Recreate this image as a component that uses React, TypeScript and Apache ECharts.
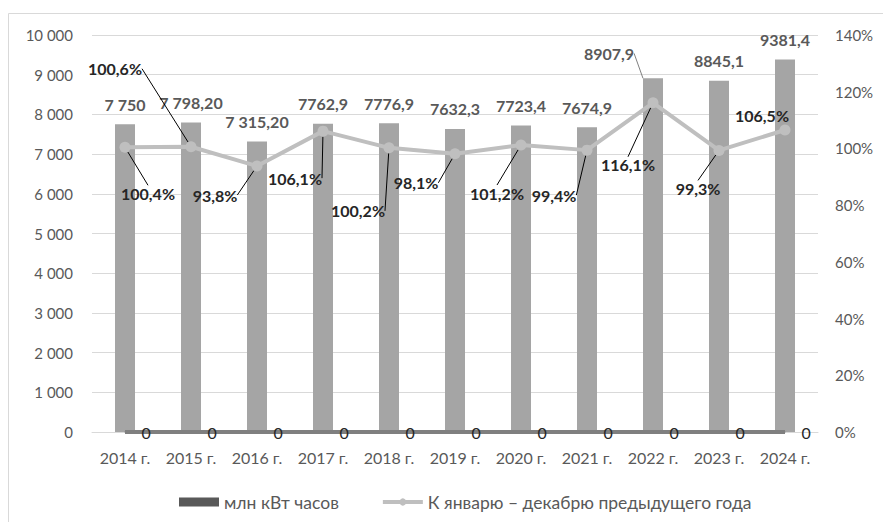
import React, { useEffect, useRef } from "react";
import * as echarts from "echarts";

const categories = ["2014 г.", "2015 г.", "2016 г.", "2017 г.", "2018 г.", "2019 г.", "2020 г.", "2021 г.", "2022 г.", "2023 г.", "2024 г."];
const energyValues = [7750, 7798.2, 7315.2, 7762.9, 7776.9, 7632.3, 7723.4, 7674.9, 8907.9, 8845.1, 9381.4];
const energyLabels = ["7 750", "7 798,20", "7 315,20", "7762,9", "7776,9", "7632,3", "7723,4", "7674,9", "8907,9", "8845,1", "9381,4"];
const zeroValues = [0, 0, 0, 0, 0, 0, 0, 0, 0, 0, 0];
const percentValues = [100.4, 100.6, 93.8, 106.1, 100.2, 98.1, 101.2, 99.4, 116.1, 99.3, 106.5];
const percentLabels = ["100,4%", "100,6%", "93,8%", "106,1%", "100,2%", "98,1%", "101,2%", "99,4%", "116,1%", "99,3%", "106,5%"];
const leftTicks = { min: 0, max: 10000, interval: 1000 };
const rightTicks = { min: 0, max: 140, interval: 20 };

const SERIES_ENERGY = "млн кВт часов";
const SERIES_PERCENT = "К январю – декабрю предыдущего года";

// label offsets (layout only)
const percentLabelOffsets: [number, number][] = [
  [23, 46], [-76, -78], [-42, 29], [-28, 47], [-31, 63], [-39, 29],
  [-24, 48], [-33, 45], [-25, 62], [-21, 38], [-23, -14],
];
const barLabelOffsets: Record<number, [number, number]> = { 8: [-44, -5] };

const FONT = "Lato, 'Noto Sans', sans-serif";

export default function App() {
  const ref = useRef<HTMLDivElement>(null);
  useEffect(() => {
    if (!ref.current) return;
    const chart = echarts.init(ref.current, undefined, { renderer: "svg" });
    const fmtThousands = (v: number) =>
      String(v).replace(/\B(?=(\d{3})+(?!\d))/g, " ");
    chart.setOption({
      animation: false,
      textStyle: { fontFamily: FONT },
      graphic: [
        {
          type: "rect",
          shape: { x: 8.5, y: 13.5, width: 900, height: 600 },
          style: { fill: "none", stroke: "#d9d9d9", lineWidth: 1 },
          silent: true,
          z: -1,
        },
      ],
      grid: { left: 92, right: 65, top: 35, bottom: 90 },
      legend: {
        left: 174,
        top: 488,
        itemWidth: 40,
        itemHeight: 9,
        itemGap: 42,
        textStyle: { color: "#595959", fontSize: 17.5, fontFamily: FONT },
        data: [
          { name: SERIES_ENERGY, icon: "rect", itemStyle: { color: "#595959" } },
          {
            name: SERIES_PERCENT,
            itemStyle: { color: "#bfbfbf" },
            lineStyle: { color: "#bfbfbf", width: 4 },
          },
        ],
      },
      xAxis: {
        type: "category",
        data: categories,
        axisLine: { lineStyle: { color: "#d9d9d9", width: 1 } },
        axisTick: { show: false },
        axisLabel: { color: "#595959", fontSize: 16, margin: 17, fontFamily: FONT },
      },
      yAxis: [
        {
          type: "value",
          min: leftTicks.min,
          max: leftTicks.max,
          interval: leftTicks.interval,
          axisLine: { show: false },
          axisTick: { show: false },
          splitLine: { lineStyle: { color: "#d9d9d9", width: 1 } },
          axisLabel: {
            color: "#595959",
            fontSize: 15,
            margin: 19,
            fontFamily: FONT,
            formatter: (v: number) => fmtThousands(v),
          },
        },
        {
          type: "value",
          min: rightTicks.min,
          max: rightTicks.max,
          interval: rightTicks.interval,
          axisLine: { show: false },
          axisTick: { show: false },
          splitLine: { show: false },
          axisLabel: {
            color: "#595959",
            fontSize: 15,
            margin: 17,
            fontFamily: FONT,
            formatter: "{value}%",
          },
        },
      ],
      series: [
        {
          name: SERIES_ENERGY,
          type: "bar",
          barWidth: 20,
          itemStyle: { color: "#a5a5a5" },
          data: energyValues.map((v, i) => ({
            value: v,
            labelLine: { show: i in barLabelOffsets },
          })),
          label: {
            show: true,
            position: "top",
            distance: 12,
            color: "#595959",
            fontSize: 16,
            fontWeight: "bold",
            fontFamily: FONT,
            formatter: (p: any) => energyLabels[p.dataIndex],
          },
          labelLine: { show: false, lineStyle: { color: "#808080", width: 1 } },
          labelLayout: (p: any) => {
            const o = barLabelOffsets[p.dataIndex];
            return o ? { dx: o[0], dy: o[1] } : {};
          },
          z: 2,
        },
        {
          name: "zero",
          type: "line",
          data: zeroValues,
          symbol: "circle",
          symbolSize: 1,
          lineStyle: { color: "#7f7f7f", width: 4 },
          itemStyle: { color: "#7f7f7f" },
          label: {
            show: true,
            position: "right",
            distance: 16,
            color: "#262626",
            fontSize: 16,
            fontFamily: FONT,
            formatter: "0",
          },
          z: 3,
        },
        {
          name: SERIES_PERCENT,
          type: "line",
          yAxisIndex: 1,
          data: percentValues.map((v, i) => ({
            value: v,
            labelLine: { show: i !== percentValues.length - 1 },
          })),
          symbol: "circle",
          symbolSize: 11,
          lineStyle: { color: "#bfbfbf", width: 4 },
          itemStyle: { color: "#bfbfbf" },
          label: {
            show: true,
            position: "inside",
            color: "#262626",
            fontSize: 16,
            fontWeight: "bold",
            fontFamily: FONT,
            formatter: (p: any) => percentLabels[p.dataIndex],
          },
          labelLine: { show: true, lineStyle: { color: "#000000", width: 1 } },
          labelLayout: (p: any) => {
            const o = percentLabelOffsets[p.dataIndex];
            return { dx: o[0], dy: o[1] };
          },
          z: 4,
        },
      ],
    });
    return () => chart.dispose();
  }, []);
  return (
    <div
      ref={ref}
      style={{ position: "fixed", left: 0, top: 0, width: 883, height: 522, background: "#fff" }}
    />
  );
}
